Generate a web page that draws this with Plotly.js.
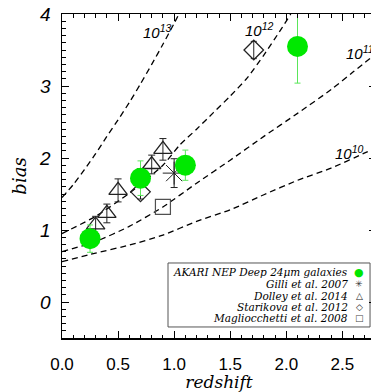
<!DOCTYPE html>
<html>
<head>
<meta charset="utf-8">
<script src="https://cdn.plot.ly/plotly-3.0.1.min.js"></script>
<style>
html,body{margin:0;padding:0;overflow:hidden;background:#fff;}
#chart{width:378px;height:392px;}
</style>
</head>
<body>
<div id="chart"></div>
<script>
// ---- data ----
const akariZ   = [0.25, 0.70, 1.10, 2.10];
const akariB   = [0.88, 1.72, 1.90, 3.55];
const akariErr = [0.19, 0.24, 0.21, 0.51];

const gilliZ   = [1.00];
const gilliB   = [1.79];
const gilliErr = [0.20];

const dolleyZ   = [0.30, 0.40, 0.50, 0.70, 0.80, 0.90];
const dolleyB   = [1.07, 1.23, 1.55, 1.73, 1.91, 2.12];
const dolleyErr = [0.12, 0.13, 0.16, 0.12, 0.13, 0.15];

const starZ   = [0.70, 1.71];
const starB   = [1.53, 3.50];
const starErr = [0.10, 0.12];

const magZ = [0.90];
const magB = [1.32];

const m13Z = [0, 0.1, 0.2, 0.3, 0.4, 0.5, 0.6, 0.7, 0.8, 0.9, 1.0, 1.05];
const m13B = [1.45, 1.63, 1.84, 2.06, 2.30, 2.53, 2.77, 3.03, 3.30, 3.58, 3.87, 4.02];
const m12Z = [0, 0.3, 0.6, 0.9, 1.05, 1.2, 1.35, 1.5, 1.65, 1.8, 1.95, 2.04];
const m12B = [0.95, 1.19, 1.51, 1.90, 2.18, 2.40, 2.63, 2.86, 3.11, 3.43, 3.78, 4.0];
const m11Z = [0, 0.3, 0.6, 0.9, 1.2, 1.5, 1.8, 2.1, 2.4, 2.6, 2.8];
const m11B = [0.70, 0.84, 1.05, 1.32, 1.65, 1.97, 2.30, 2.62, 2.95, 3.20, 3.45];
const m10Z = [0, 0.3, 0.6, 0.9, 1.2, 1.5, 1.8, 2.1, 2.4, 2.7, 2.8];
const m10B = [0.56, 0.68, 0.79, 0.93, 1.12, 1.28, 1.49, 1.69, 1.86, 2.07, 2.14];

const curveLabels = ['10<sup>13</sup>', '10<sup>12</sup>', '10<sup>11</sup>', '10<sup>10</sup>'];
const curveLabelZ = [0.85, 1.76, 2.66, 2.56];
const curveLabelB = [3.76, 3.79, 3.47, 2.08];

const legendNames = ['AKARI NEP Deep 24\u03bcm galaxies', 'Gilli et al. 2007', 'Dolley et al. 2014',
                     'Starikova et al. 2012', 'Magliocchetti et al. 2008'];
const legendSymbols = ['\u25CF', '\u2733', '\u25B3', '\u25C7', '\u25A1'];
const legendColors = ['rgb(0,230,0)', '#333', '#222', '#222', '#444'];

const green = 'rgb(0,232,0)';
const dashLine = {color: 'black', width: 1.3, dash: '6px,4px', shape: 'spline', smoothing: 0.6};

const traces = [];
[[m13Z, m13B], [m12Z, m12B], [m11Z, m11B], [m10Z, m10B]].forEach(c => {
  traces.push({x: c[0], y: c[1], mode: 'lines', line: dashLine, hoverinfo: 'skip'});
});

traces.push({x: magZ, y: magB, mode: 'markers',
  marker: {symbol: 'square-open', size: 15, color: 'rgb(80,80,80)', line: {width: 1.2}}});
traces.push({x: starZ, y: starB, mode: 'markers',
  error_y: {type: 'data', array: starErr, color: '#222', thickness: 1, width: 3},
  marker: {symbol: 'diamond-open', size: 15, color: '#222', line: {width: 1.3}}});
traces.push({x: dolleyZ, y: dolleyB, mode: 'markers',
  error_y: {type: 'data', array: dolleyErr, color: '#222', thickness: 1, width: 3.5},
  marker: {symbol: 'triangle-up-open', size: 16, color: '#222', line: {width: 1.3}}});
traces.push({x: gilliZ, y: gilliB, mode: 'markers',
  error_y: {type: 'data', array: gilliErr, color: '#222', thickness: 1, width: 3.5},
  marker: {symbol: 'asterisk-open', size: 19, color: '#222', line: {width: 1, color: '#222'}}});
traces.push({x: akariZ, y: akariB, mode: 'markers',
  error_y: {type: 'data', array: akariErr, color: 'rgb(90,230,90)', thickness: 1, width: 3},
  marker: {symbol: 'circle', size: 21, color: green}});

const annotations = [];
curveLabels.forEach((t, i) => annotations.push({
  x: curveLabelZ[i], y: curveLabelB[i], xref: 'x', yref: 'y', text: t, showarrow: false,
  xanchor: 'center', yanchor: 'middle',
  font: {family: 'Liberation Sans, Arial, sans-serif', size: 15, style: 'italic', color: 'black'}
}));
const rowY = [0.2037, 0.1667, 0.1296, 0.0957, 0.0617];
legendNames.forEach((t, i) => {
  annotations.push({x: 0.918, y: rowY[i], xref: 'paper', yref: 'paper', text: t, showarrow: false,
    xanchor: 'right', yanchor: 'middle',
    font: {family: 'DejaVu Serif', size: 10.5, style: 'italic', color: 'black'}});
  annotations.push({x: 0.947, y: rowY[i], xref: 'paper', yref: 'paper', text: legendSymbols[i], showarrow: false,
    xanchor: 'center', yanchor: 'middle',
    font: {family: 'DejaVu Sans', size: i === 0 ? 11 : 9, color: legendColors[i]}});
});

const axisCommon = {
  showgrid: false, zeroline: false, showline: true, linecolor: 'black', linewidth: 1.5,
  mirror: 'allticks', ticks: 'inside', ticklen: 7, tickwidth: 1, tickcolor: 'black',
};

const layout = {
  width: 378, height: 392,
  margin: {l: 62, r: 2, t: 14, b: 54},
  paper_bgcolor: 'white', plot_bgcolor: 'white',
  showlegend: false,
  xaxis: Object.assign({}, axisCommon, {
    range: [0, 2.8], dtick: 0.5, tick0: 0, tickformat: '.1f',
    minor: {dtick: 0.1, ticks: 'inside', ticklen: 3.5, tickcolor: 'black', tickwidth: 1},
    tickfont: {family: 'Liberation Sans, Arial, sans-serif', size: 17, color: 'black'},
    ticklabelstandoff: 10,
    title: {text: 'redshift', font: {family: 'DejaVu Serif', size: 17, style: 'italic', color: 'black'}, standoff: 2}
  }),
  yaxis: Object.assign({}, axisCommon, {
    range: [-0.5, 4.0], dtick: 1, tick0: 0,
    minor: {dtick: 0.1, ticks: 'inside', ticklen: 3.5, tickcolor: 'black', tickwidth: 1},
    tickfont: {family: 'Liberation Sans, Arial, sans-serif', size: 19, style: 'italic', color: 'black'},
    ticklabelstandoff: 6,
    title: {text: 'bias', font: {family: 'DejaVu Serif', size: 18, style: 'italic', color: 'black'}, standoff: 8}
  }),
  shapes: [{type: 'rect', xref: 'paper', yref: 'paper', x0: 0.3376, x1: 0.981, y0: 0.034, y1: 0.2315,
    line: {color: '#555', width: 1}, fillcolor: 'white', layer: 'below'}],
  annotations: annotations
};

Plotly.newPlot('chart', traces, layout, {displayModeBar: false, staticPlot: true});
</script>
</body>
</html>
